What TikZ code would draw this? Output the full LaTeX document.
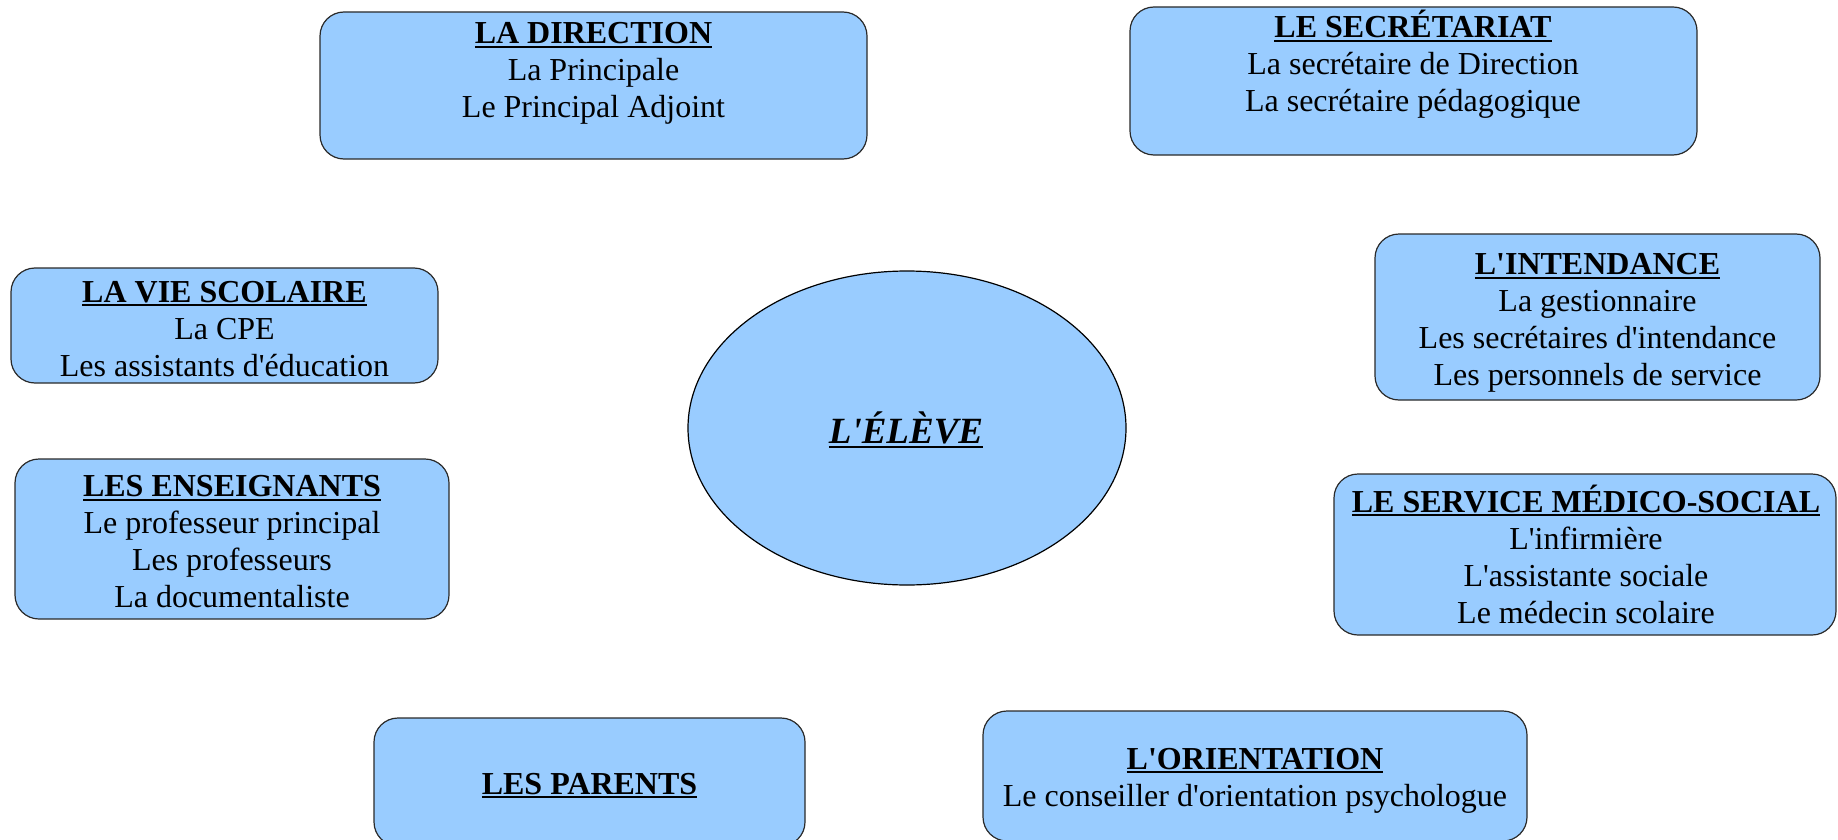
\documentclass[tikz,border=0pt]{standalone}
\usepackage{fontspec}
\setmainfont{Liberation Serif}
\definecolor{boxblue}{HTML}{99CCFF}
\definecolor{edge}{HTML}{2A2A2A}
\newcommand\ttl[1]{\setbox0\hbox{\bfseries #1}\rlap{\rule[-4pt]{\wd0}{2pt}}\box0}
\newcommand\q{\textquotesingle}
\tikzset{
  box/.style={draw=edge, fill=boxblue, line width=1.2pt, rounded corners=24pt, inner sep=0pt},
  txt/.style={align=center, inner sep=0pt, font=\fontsize{32}{37}\selectfont},
  oval/.style={ellipse, draw=black, fill=boxblue, line width=1.2pt, inner sep=0pt}
}
\usetikzlibrary{shapes.geometric}
\begin{document}
\begin{tikzpicture}[x=1pt,y=-1pt]
\useasboundingbox (0,0) rectangle (1838,840);
\clip (0,0) rectangle (1838,840);
% Direction
\node[box, minimum width=547pt, minimum height=147pt] (dir) at (593.5,85.5) {};
\node[txt] (dirt) at (593.5,73.5) {\ttl{LA DIRECTION}\\La Principale\\Le Principal Adjoint};
% Secretariat
\node[box, minimum width=567pt, minimum height=148pt] (sec) at (1413.5,81) {};
\node[txt] (sect) at (1413,64.5) {\ttl{LE SECRÉTARIAT}\\La secrétaire de Direction\\La secrétaire pédagogique};
% Vie scolaire
\node[box, minimum width=427pt, minimum height=115pt] (vie) at (224.5,325.5) {};
\node[txt] (viet) at (224.5,329) {\ttl{LA VIE SCOLAIRE}\\La CPE\\Les assistants d\q éducation};
% Enseignants
\node[box, minimum width=434pt, minimum height=160pt] (ens) at (232,539) {};
\node[txt] (enst) at (232,542) {\ttl{LES ENSEIGNANTS}\\Le professeur principal\\Les professeurs\\La documentaliste};
% Intendance
\node[box, minimum width=445pt, minimum height=166pt] (int) at (1597.5,317) {};
\node[txt] (intt) at (1597.5,323) {\ttl{L\q INTENDANCE}\\La gestionnaire\\Les secrétaires d\q intendance\\Les personnels de service};
% Medico-social
\node[box, minimum width=502pt, minimum height=161pt] (med) at (1585,554.5) {};
\node[txt] (medt) at (1586,554) {\ttl{LE SERVICE MÉDICO-SOCIAL}\\L\q infirmière\\L\q assistante sociale\\Le médecin scolaire};
% Parents
\node[box, minimum width=431pt, minimum height=128pt] (par) at (589.5,782) {};
\node[txt] (part) at (589.5,785.5) {\ttl{LES PARENTS}};
% Orientation
\node[box, minimum width=544pt, minimum height=130pt] (ori) at (1255,776) {};
\node[txt] (orit) at (1255,780.5) {\ttl{L\q ORIENTATION}\\Le conseiller d\q orientation psychologue};
% Eleve
\node[oval, minimum width=438pt, minimum height=314pt] (eleve) at (907,428) {};
\node[txt, font=\fontsize{37}{42}\selectfont] (elevet) at (906,430) {\itshape\ttl{L\q ÉLÈVE}};
\end{tikzpicture}
\end{document}
